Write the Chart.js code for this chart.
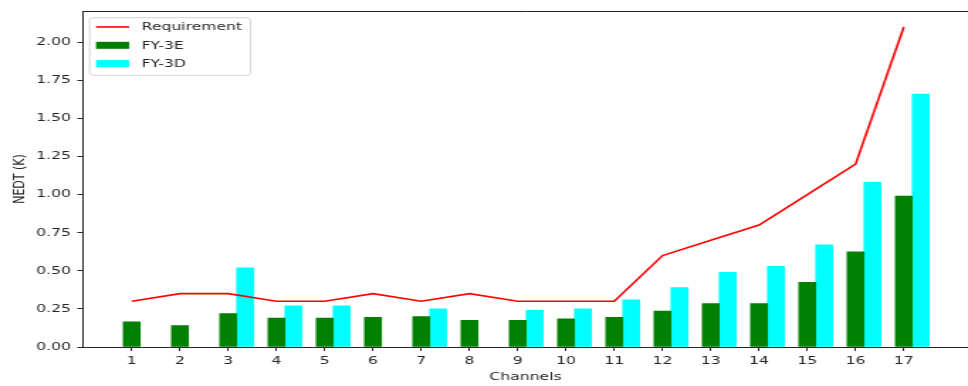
<!DOCTYPE html>
<html>
<head>
<meta charset="utf-8">
<title>NEDT per channel</title>
<script src="https://cdn.jsdelivr.net/npm/chart.js@4/dist/chart.umd.min.js"></script>
<style>
    html, body { margin: 0; padding: 0; background: #fff; }
    #nedt-chart { display: block; }
</style>
</head>
<body>
<!-- drawn narrow, then stretched horizontally to the page width -->
<canvas id="nedt-chart" width="682" height="386" style="width:968px;height:386px"></canvas>
<script>
// NEDT per channel: FY-3E vs FY-3D against the requirement

const channels = [1, 2, 3, 4, 5, 6, 7, 8, 9, 10, 11, 12, 13, 14, 15, 16, 17];
const fy3e = [0.165, 0.14, 0.22, 0.19, 0.19, 0.195, 0.20, 0.175, 0.175, 0.185, 0.195, 0.235, 0.285, 0.285, 0.425, 0.625, 0.99];
const fy3d = [null, null, 0.52, 0.27, 0.27, null, 0.25, null, 0.24, 0.25, 0.31, 0.39, 0.49, 0.53, 0.67, 1.08, 1.66];
const requirement = [0.3, 0.35, 0.35, 0.3, 0.3, 0.35, 0.3, 0.35, 0.3, 0.3, 0.3, 0.6, 0.7, 0.8, 1.0, 1.2, 2.1];
const yTicks = [0, 0.25, 0.5, 0.75, 1.0, 1.25, 1.5, 1.75, 2.0];

const BAR_W = 0.35;       // bar width in channel units, FY-3D sits one bar to the right
const X_MIN = -0.01;
const X_MAX = 18.33;
const Y_MAX = 2.205;

const FONT = 'DejaVu Sans';
const INK = '#262626';

// matplotlib-like legend box in the upper left + the top spine
const boxLegend = {
    id: 'boxLegend',
    afterDatasetsDraw(chart) {
        const { ctx, chartArea: ca } = chart;

        ctx.save();
        ctx.strokeStyle = INK;
        ctx.lineWidth = 1;
        ctx.beginPath();
        ctx.moveTo(ca.left, ca.top + 0.5);
        ctx.lineTo(ca.right, ca.top + 0.5);
        ctx.stroke();

        const bx = ca.left + 4.7;
        const by = 17.7;
        const bw = 113.4;
        const bh = 57.6;
        ctx.fillStyle = 'rgba(255,255,255,0.8)';
        ctx.strokeStyle = '#d4d4d4';
        ctx.beginPath();
        ctx.roundRect(bx, by, bw, bh, 2.5);
        ctx.fill();
        ctx.stroke();

        ctx.font = `11px "${FONT}"`;
        ctx.textBaseline = 'middle';
        ctx.textAlign = 'left';
        chart.data.datasets.forEach((ds, i) => {
            const y = by + 9.3 + i * 18.3;
            const hx = ca.left + 9.2;
            const hw = 23.3;
            if (ds.type === 'line') {
                ctx.strokeStyle = ds.borderColor;
                ctx.lineWidth = ds.borderWidth;
                ctx.beginPath();
                ctx.moveTo(hx, y);
                ctx.lineTo(hx + hw, y);
                ctx.stroke();
            } else {
                ctx.fillStyle = ds.backgroundColor;
                ctx.fillRect(hx, y - 3.5, hw, 7);
            }
            ctx.fillStyle = INK;
            ctx.fillText(ds.label, ca.left + 41.3, y + 0.5);
        });
        ctx.restore();
    }
};

document.addEventListener('DOMContentLoaded', () => {
    const ctx = document.getElementById('nedt-chart');

    new Chart(ctx, {
        type: 'bar',
        data: {
            datasets: [
                {
                    type: 'line',
                    label: 'Requirement',
                    data: channels.map((c, i) => ({ x: c, y: requirement[i] })),
                    borderColor: '#ff0000',
                    borderWidth: 1.6,
                    pointRadius: 0,
                    tension: 0,
                    fill: false,
                    order: 0
                },
                {
                    label: 'FY-3E',
                    data: channels.map((c, i) => ({ x: c, y: fy3e[i] })),
                    backgroundColor: '#008000',
                    borderWidth: 0,
                    order: 1
                },
                {
                    label: 'FY-3D',
                    data: channels.map((c, i) => ({ x: c + BAR_W, y: fy3d[i] })),
                    backgroundColor: '#00ffff',
                    borderWidth: 0,
                    order: 2
                }
            ]
        },
        options: {
            responsive: false,
            animation: false,
            grouped: false,
            barPercentage: 1,
            categoryPercentage: 1,
            layout: { padding: { top: 11, right: 0, left: 0, bottom: 0 } },
            plugins: {
                legend: { display: false },
                tooltip: { enabled: false }
            },
            scales: {
                x: {
                    type: 'linear',
                    min: X_MIN,
                    max: X_MAX,
                    offset: false,
                    afterBuildTicks: s => { s.ticks = channels.map(v => ({ value: v })); },
                    afterFit: s => { s.height = 39; },
                    grid: { offset: false, drawOnChartArea: false, drawTicks: true, tickLength: 4, color: INK },
                    border: { color: INK, width: 1 },
                    ticks: { color: INK, padding: 4, font: { family: FONT, size: 11 }, maxRotation: 0, autoSkip: false },
                    title: { display: true, text: 'Channels', color: INK, font: { family: FONT, size: 11 }, padding: { top: 0, bottom: 2.4 } }
                },
                y: {
                    min: 0,
                    max: Y_MAX,
                    afterBuildTicks: s => { s.ticks = yTicks.map(v => ({ value: v })); },
                    afterFit: s => { s.width = 58.45; },
                    grid: { drawOnChartArea: false, drawTicks: true, tickLength: 4, color: INK },
                    border: { color: INK, width: 1 },
                    ticks: { color: INK, padding: 4.4, font: { family: FONT, size: 11 }, callback: v => v.toFixed(2) },
                    title: { display: true, text: 'NEDT (K)', color: INK, font: { family: FONT, size: 11 }, padding: { top: 7.1, bottom: 0 } }
                }
            }
        },
        plugins: [boxLegend]
    });
});
</script>
</body>
</html>
